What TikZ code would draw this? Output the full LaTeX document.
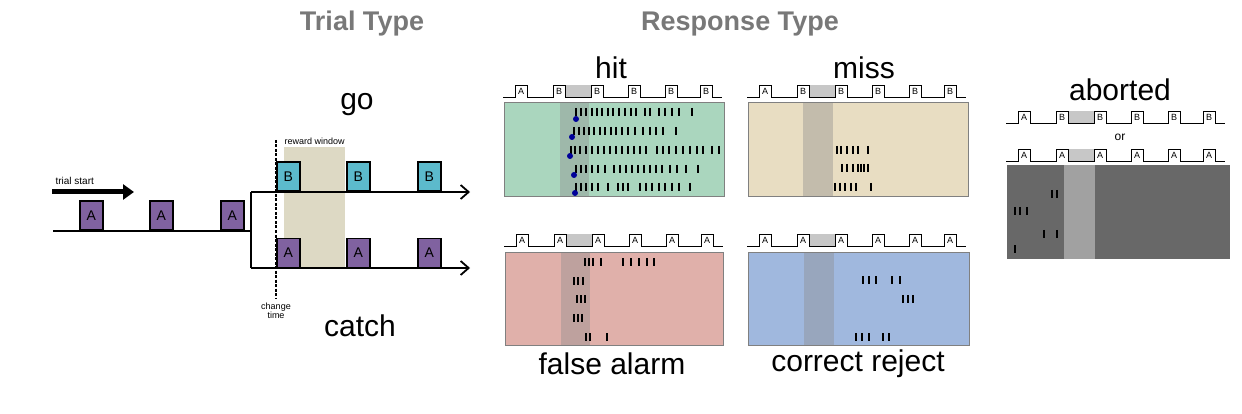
\documentclass[tikz,border=0pt]{standalone}
\usepackage{fontspec}
\setmainfont{Liberation Sans}
\usetikzlibrary{arrows.meta}
\definecolor{stimA}{RGB}{128,98,160}
\definecolor{stimB}{RGB}{92,186,204}
\definecolor{rewardC}{RGB}{221,217,196}
\definecolor{hitC}{RGB}{170,214,190}
\definecolor{missC}{RGB}{232,221,194}
\definecolor{faC}{RGB}{224,176,170}
\definecolor{crC}{RGB}{160,184,222}
\definecolor{abC}{RGB}{104,104,104}
\definecolor{titleC}{RGB}{120,120,120}
\tikzset{
  stimbox/.style={draw=black, line width=1.5pt, minimum width=23pt, minimum height=29pt, inner sep=0pt, font=\fontsize{14}{14}\selectfont, anchor=south west},
  tline/.style={line width=1.8pt},
  big/.style={font=\fontsize{30}{30}\selectfont},
  ttl/.style={font=\fontsize{27}{27}\selectfont\bfseries, text=titleC},
  lick/.style={line width=1.3pt},
  band/.style={fill=black!45, opacity=.4},
}
% pulse train: x0, baseline y, letter before change, letter after change
\newcommand{\pulses}[4]{%
  \fill[black!22] (#1+62,#2-12) rectangle (#1+88,#2);
  \draw[line width=.8pt] (#1,#2)
    \foreach \p in {12,50,88,125,162,197}{ -- (#1+\p,#2) -- (#1+\p,#2-12) -- (#1+\p+12,#2-12) -- (#1+\p+12,#2)} -- (#1+219,#2);
  \node[font=\fontsize{9}{9}\selectfont] at (#1+18,#2-6) {#3};
  \foreach \p in {50,88,125,162,197}
    \node[font=\fontsize{9}{9}\selectfont] at (#1+\p+6,#2-6) {#4};
}
% raster row: y, list of x
\newcommand{\licks}[2]{%
  \foreach \t in {#2} \draw[lick] (\t,#1-4) -- (\t,#1+4);
}
\begin{document}
\begin{tikzpicture}[x=1pt, y=-1pt]
  \useasboundingbox (0,0) rectangle (1242,414);
  %
  \node[ttl] (trialT) at (362,24) {Trial Type};
  \node[ttl] (respT) at (740,24) {Response Type};
  %
  % trial type
  \fill[rewardC] (284,147) rectangle (345,268);      % reward window
  \draw[tline] (53,231) -- (251,231);
  \draw[tline] (251,192) -- (251,268);
  \draw[tline, -{Straight Barb[length=8pt,width=14pt]}] (251,192) -- (470,192);
  \draw[tline, -{Straight Barb[length=8pt,width=14pt]}] (251,268) -- (470,268);
  \draw[line width=5pt, -{Triangle[length=11pt,width=15pt]}] (52,192) -- (134,192);
  \node[font=\fontsize{10}{10}\selectfont, anchor=west] (start) at (52,181) {trial start};
  \foreach \x in {79,149,220} \node[stimbox, fill=stimA] at (\x,231) {A};
  \foreach \x in {276,346,417} {
    \node[stimbox, fill=stimB] at (\x,192) {B};
    \node[stimbox, fill=stimA] at (\x,268) {A};
  }
  \draw[dash pattern=on 3pt off 1.5pt, line width=1.3pt] (276,140) -- (276,298);
  \node[font=\fontsize{9}{9}\selectfont, anchor=west] (reward) at (281,141) {reward window};
  \node[font=\fontsize{9}{9}\selectfont, align=center] (change) at (276,311) {change\\time};
  \node[big] (go) at (357,105) {go};
  \node[big] (catch) at (360,326) {catch};
  %
  % hit
  \node[big] (hit) at (611,68) {hit};
  \pulses{503}{97}{A}{B}
  \fill[hitC] (504,102) rectangle (724,196);
  \fill[band] (560,102) rectangle (589,196);
  \draw[black!50, line width=.8pt] (504,102) rectangle (724,196);
  \licks{112}{576,581,586,592,597,602,608,613,619,625,631,636,645,650,659,665,672,679,692}
  \licks{131}{574,579,584,589,594,600,605,611,616,622,628,635,643,650,656,663,676}
  \licks{150}{571,575,580,586,592,598,604,610,616,622,628,634,640,646,657,663,669,676,683,690,697,703,712,719}
  \licks{169}{576,581,586,592,598,605,614,620,626,632,638,644,650,656,662,670,677,686,698}
  \licks{187}{576,581,586,592,598,608,618,623,628,640,646,652,659,665,672,679,690}
  \foreach \x/\y in {576/119,572/137,570/156,574/175,575/193} \fill[blue!60!black] (\x,\y) circle (3);
  %
  % miss
  \node[big] (miss) at (864,68) {miss};
  \pulses{747}{97}{A}{B}
  \fill[missC] (748,102) rectangle (968,196);
  \fill[band] (803,102) rectangle (833,196);
  \draw[black!50, line width=.8pt] (748,102) rectangle (968,196);
  \licks{150}{837,841,847,853,858,868}
  \licks{168}{842,847,853,858,861,864,868}
  \licks{187}{835,840,845,851,856,871}
  %
  % false alarm
  \node[big] (fa) at (612,364) {false alarm};
  \pulses{504}{246}{A}{A}
  \fill[faC] (505,252) rectangle (723,345);
  \fill[band] (561,252) rectangle (590,345);
  \draw[black!50, line width=.8pt] (505,252) rectangle (723,345);
  \licks{262}{585,589,593,601,623,631,639,647,654}
  \licks{281}{574,578,583}
  \licks{299}{577,581,585}
  \licks{318}{574,578,582}
  \licks{337}{586,590,607}
  %
  % correct reject
  \node[big] (cr) at (858,364) {correct reject};
  \pulses{747}{246}{A}{A}
  \fill[crC] (748,252) rectangle (969,345);
  \fill[band] (804,252) rectangle (834,345);
  \draw[black!50, line width=.8pt] (748,252) rectangle (969,345);
  \licks{280}{863,869,876,892,900}
  \licks{299}{903,908,913}
  \licks{337}{856,862,869,883,889}
  %
  % aborted
  \node[big] (abort) at (1120,90) {aborted};
  \pulses{1006}{123}{A}{B}
  \node[font=\fontsize{12}{12}\selectfont] (or) at (1120,137) {or};
  \pulses{1006}{161}{A}{A}
  \fill[abC] (1007,165) rectangle (1230,259);
  \fill[black!37] (1064,165) rectangle (1095,259);
  \licks{194}{1052,1057}
  \licks{211}{1015,1020,1027}
  \licks{234}{1044,1057}
  \licks{249}{1015}
\end{tikzpicture}
\end{document}
